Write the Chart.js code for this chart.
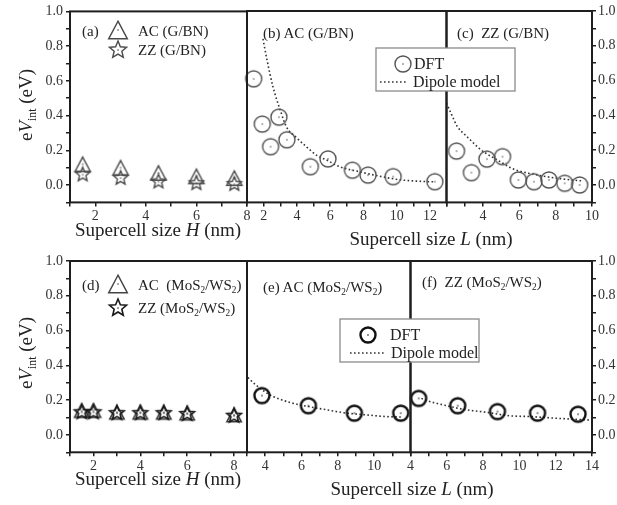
<!DOCTYPE html>
<html>
<head>
<meta charset="utf-8">
<title>eV_int versus supercell size</title>
<script src="https://cdn.jsdelivr.net/npm/chart.js@4.4.1/dist/chart.umd.min.js"></script>
<style>
  html, body { margin: 0; padding: 0; background: #fff; }
  #fig { position: relative; width: 617px; height: 505px; overflow: hidden; background: #fff; }
  #fig canvas { position: absolute; left: 0; top: 0; }
  .t { position: absolute; font-family: 'Liberation Serif', serif; color: #222; white-space: nowrap; line-height: 1; transform: translateY(-50%); }
  .t sub { font-size: 62%; vertical-align: -0.4em; line-height: 0; }
  .lab { font-size: 15px; }
  .leg { font-size: 16px; }
  .xt { font-size: 19px; transform: translate(-50%, -50%); }
  .yt { font-size: 19px; transform: translate(-50%, -50%) rotate(-90deg); }
</style>
</head>
<body>
<div id="fig">
  <canvas id="pa" width="617" height="505"></canvas>
  <canvas id="pb" width="617" height="505"></canvas>
  <canvas id="pc" width="617" height="505"></canvas>
  <canvas id="pd" width="617" height="505"></canvas>
  <canvas id="pe" width="617" height="505"></canvas>
  <canvas id="pf" width="617" height="505"></canvas>

  <div class="t lab" style="left:82px;top:31px">(a)</div>
  <div class="t lab" style="left:138px;top:31px">AC (G/BN)</div>
  <div class="t lab" style="left:138px;top:50px">ZZ (G/BN)</div>
  <div class="t lab" style="left:263px;top:33px">(b) AC (G/BN)</div>
  <div class="t lab" style="left:457px;top:33px">(c)&nbsp;&nbsp;ZZ (G/BN)</div>
  <div class="t leg" style="left:414px;top:64px">DFT</div>
  <div class="t leg" style="left:413px;top:82px">Dipole model</div>

  <div class="t lab" style="left:82px;top:285px">(d)</div>
  <div class="t lab" style="left:138px;top:285px">AC&nbsp;&nbsp;(MoS<sub>2</sub>/WS<sub>2</sub>)</div>
  <div class="t lab" style="left:138px;top:308px">ZZ (MoS<sub>2</sub>/WS<sub>2</sub>)</div>
  <div class="t lab" style="left:263px;top:287px">(e) AC (MoS<sub>2</sub>/WS<sub>2</sub>)</div>
  <div class="t lab" style="left:422px;top:282px">(f)&nbsp;&nbsp;ZZ (MoS<sub>2</sub>/WS<sub>2</sub>)</div>
  <div class="t leg" style="left:390px;top:335px">DFT</div>
  <div class="t leg" style="left:391px;top:353px">Dipole model</div>

  <div class="t xt" style="left:158px;top:229px">Supercell size <i>H</i> (nm)</div>
  <div class="t xt" style="left:431px;top:238px">Supercell size <i>L</i> (nm)</div>
  <div class="t xt" style="left:158px;top:478px">Supercell size <i>H</i> (nm)</div>
  <div class="t xt" style="left:412px;top:488px">Supercell size <i>L</i> (nm)</div>
  <div class="t yt" style="left:25px;top:105px">e<i>V</i><sub>int</sub> (eV)</div>
  <div class="t yt" style="left:25px;top:353px">e<i>V</i><sub>int</sub> (eV)</div>
</div>

<script>
// (a) G/BN, supercell size H
var gbnH = [1.5, 3, 4.5, 6, 7.5];
var gbnAC = [0.12, 0.10, 0.07, 0.05, 0.04];
var gbnZZ = [0.06, 0.04, 0.02, 0.01, 0.005];

// (b) AC G/BN, supercell size L
var gbnAcL = [1.4, 1.92, 2.42, 2.92, 3.4, 4.81, 5.87, 7.34, 8.28, 9.79, 12.3];
var gbnAcDft = [0.61, 0.35, 0.22, 0.39, 0.26, 0.105, 0.15, 0.085, 0.057, 0.048, 0.019];
var gbnAcFitL = [1.96, 2.2, 2.56, 3.0, 3.37, 4.0, 4.57, 5.2, 5.78, 6.58, 7.78, 8.99, 10.2, 11.7, 12.3];
var gbnAcFit = [0.84, 0.72, 0.565, 0.43, 0.335, 0.27, 0.22, 0.17, 0.144, 0.105, 0.076, 0.05, 0.03, 0.02, 0.018];

// (c) ZZ G/BN
var gbnZzL = [2.55, 3.37, 4.22, 5.08, 5.95, 6.81, 7.63, 8.5, 9.32];
var gbnZzDft = [0.195, 0.071, 0.149, 0.163, 0.029, 0.019, 0.029, 0.01, 0.0];
var gbnZzFitL = [2.0, 2.3, 2.6, 3.0, 3.3, 3.8, 4.2, 4.7, 5.1, 5.6, 6.0, 6.5, 7.0, 7.6, 8.2, 8.8, 9.4];
var gbnZzFit = [0.47, 0.40, 0.335, 0.29, 0.26, 0.21, 0.18, 0.15, 0.125, 0.095, 0.08, 0.068, 0.057, 0.046, 0.037, 0.03, 0.024];

// (d) MoS2/WS2, supercell size H
var mosH = [1.5, 2, 3, 4, 5, 6, 8];
var mosAC = [0.14, 0.14, 0.13, 0.13, 0.13, 0.125, 0.115];
var mosZZ = [0.13, 0.13, 0.125, 0.125, 0.125, 0.12, 0.11];

// (e) AC MoS2/WS2
var mosAcL = [3.82, 6.38, 8.91, 11.46];
var mosAcDft = [0.226, 0.168, 0.125, 0.125];
var mosAcFitL = [3.05, 3.4, 3.73, 4.1, 4.46, 5.38, 6.38, 7.4, 8.5, 9.6, 10.7, 11.6];
var mosAcFit = [0.33, 0.295, 0.268, 0.24, 0.22, 0.186, 0.163, 0.144, 0.125, 0.115, 0.105, 0.103];

// (f) ZZ MoS2/WS2
var mosZzL = [4.45, 6.6, 8.79, 11.0, 13.23];
var mosZzDft = [0.21, 0.168, 0.134, 0.125, 0.119];
var mosZzFitL = [4.6, 4.82, 5.82, 7.1, 8.19, 9.46, 10.7, 12.0, 13.84];
var mosZzFit = [0.21, 0.2, 0.172, 0.144, 0.13, 0.11, 0.105, 0.096, 0.086];

// axis ranges and tick labels left blank where panels meet
var yRange = [-0.1, 1.0];
var xRangeA = [1, 8], xRangeB = [1, 13], xRangeC = [2, 10];
var xRangeD = [1, 8.55], xRangeE = [3, 12], xRangeF = [4, 14];
var hiddenC = [2], hiddenE = [12];

Chart.defaults.font.family = "'Liberation Serif', serif";

var W = 617, H = 505, XH = 30, YWL = 30, YWR = 25;
var FRAME = '#1e1e1e';

function pts(xs, ys) {
    return xs.map(function (x, i) { return { x: x, y: ys[i] }; });
}

// hollow symbols with a small centre dot
function marker(shape, r, color, lw) {
    var s = Math.ceil(2 * r + 2 * lw + 4);
    if (s % 2) s++;
    var c = document.createElement('canvas');
    c.width = s; c.height = s;
    var g = c.getContext('2d');
    var m = s / 2;
    g.strokeStyle = color; g.fillStyle = color; g.lineWidth = lw; g.lineJoin = 'miter';
    g.beginPath();
    if (shape === 'ring') {
        g.arc(m, m, r, 0, Math.PI * 2);
    } else if (shape === 'tri') {
        // a little taller than equilateral, centred on its middle
        var hw = r * 0.85, hh = r * 0.8;
        g.moveTo(m, m - hh);
        g.lineTo(m + hw, m + hh);
        g.lineTo(m - hw, m + hh);
        g.closePath();
    } else {
        for (var j = 0; j < 10; j++) {
            var b = -Math.PI / 2 + j * Math.PI / 5;
            var rr = j % 2 ? r * 0.45 : r;
            g.lineTo(m + rr * Math.cos(b), m + rr * Math.sin(b));
        }
        g.closePath();
    }
    g.stroke();
    g.beginPath(); g.arc(m, m, 0.8, 0, Math.PI * 2); g.fill();
    return c;
}

var triTop = marker('tri', 9, '#4a4a4a', 1.4);
var triTopLeg = marker('tri', 11, '#4a4a4a', 1.4);
var starTop = marker('star', 7.5, '#4a4a4a', 1.4);
var starTopLeg = marker('star', 9, '#4a4a4a', 1.4);
var ringTop = marker('ring', 8, '#555', 1.4);
var triBot = marker('tri', 8.5, '#333', 1.5);
var triBotLeg = marker('tri', 11, '#444', 1.4);
var starBot = marker('star', 7.5, '#1a1a1a', 1.7);
var starBotLeg = marker('star', 9, '#1a1a1a', 1.6);
var ringBot = marker('ring', 7.5, '#111', 2.4);

function axisX(range, hidden) {
    return {
        type: 'linear', position: 'bottom', min: range[0], max: range[1],
        border: { display: false },
        grid: { drawOnChartArea: false, drawTicks: true, tickLength: 4, color: FRAME, lineWidth: 1.5 },
        ticks: {
            stepSize: 1, includeBounds: false, autoSkip: false, maxRotation: 0, padding: 2,
            color: '#333', font: { size: 14 },
            callback: function (v) {
                return (v % 2 === 0 && hidden.indexOf(v) < 0) ? String(v) : '';
            }
        },
        afterFit: function (s) { s.height = XH; }
    };
}

function axisY(pos) {
    var ax = {
        type: 'linear', position: pos || 'left', display: !!pos, min: yRange[0], max: yRange[1],
        border: { display: false },
        grid: { drawOnChartArea: false, drawTicks: true, tickLength: 4, color: FRAME, lineWidth: 1.5 },
        ticks: {
            stepSize: 0.1, autoSkip: false, padding: pos === 'right' ? 2 : 3,
            color: '#333', font: { size: 14 },
            callback: function (v) {
                var k = Math.round(v * 10);
                return (k % 2 === 0 && k >= 0) ? (k / 10).toFixed(1) : '';
            }
        }
    };
    if (pos) ax.afterFit = function (s) { s.width = pos === 'right' ? YWR : YWL; };
    return ax;
}

function dots(xs, ys, img) {
    return { data: pts(xs, ys), pointStyle: img, pointRadius: 8, showLine: false, clip: false };
}

function dipole(xs, ys) {
    return {
        data: pts(xs, ys), showLine: true, pointRadius: 0, fill: false,
        borderColor: '#333', borderWidth: 1.6, borderDash: [1.6, 2.4],
        cubicInterpolationMode: 'monotone'
    };
}

function putImg(ctx, img, x, y) {
    ctx.drawImage(img, x - img.width / 2, y - img.height / 2);
}

// legend box with the DFT ring and the dotted dipole sample
function legendBox(ctx, x, y, w, h, ring, ringPos, dash) {
    ctx.save();
    ctx.fillStyle = '#fff';
    ctx.fillRect(x, y, w, h);
    ctx.strokeStyle = '#8a8a8a'; ctx.lineWidth = 1.3;
    ctx.strokeRect(x, y, w, h);
    putImg(ctx, ring, ringPos[0], ringPos[1]);
    ctx.strokeStyle = '#333'; ctx.lineWidth = 1.6; ctx.setLineDash([1.6, 2.4]);
    ctx.beginPath(); ctx.moveTo(dash[0], dash[2]); ctx.lineTo(dash[1], dash[2]); ctx.stroke();
    ctx.restore();
}

function panel(id, box, range, hidden, yPos, datasets, decor) {
    var padL = box[0] - (yPos === 'left' ? YWL : 0);
    var padR = W - box[1] - (yPos === 'right' ? YWR : 0);
    return new Chart(document.getElementById(id), {
        type: 'scatter',
        data: { datasets: datasets },
        options: {
            responsive: false, animation: false, devicePixelRatio: 1, events: [],
            layout: { padding: { left: padL, right: padR, top: box[2], bottom: H - box[3] - XH } },
            plugins: { legend: { display: false }, tooltip: { enabled: false } },
            scales: { x: axisX(range, hidden), y: axisY(yPos) }
        },
        plugins: [{
            id: 'frame',
            afterDraw: function (chart) {
                var a = chart.chartArea, ctx = chart.ctx;
                ctx.save();
                ctx.strokeStyle = FRAME; ctx.lineWidth = 2;
                ctx.strokeRect(a.left, a.top, a.right - a.left, a.bottom - a.top);
                ctx.restore();
                if (decor) decor(ctx);
            }
        }]
    });
}

// top row: G/BN
panel('pa', [70, 247, 11, 202.4], xRangeA, [], 'left', [
    dots(gbnH, gbnAC, triTop),
    dots(gbnH, gbnZZ, starTop)
], function (ctx) {
    putImg(ctx, triTopLeg, 118, 30);
    putImg(ctx, starTopLeg, 118, 50);
});

panel('pb', [247, 446.5, 11, 202.4], xRangeB, [], null, [
    dots(gbnAcL, gbnAcDft, ringTop),
    dipole(gbnAcFitL, gbnAcFit)
]);

panel('pc', [446.5, 592, 11, 202.4], xRangeC, hiddenC, 'right', [
    dots(gbnZzL, gbnZzDft, ringTop),
    dipole(gbnZzFitL, gbnZzFit)
], function (ctx) {
    legendBox(ctx, 376, 48, 139, 43, ringTop, [403, 64], [380, 406, 82]);
});

// bottom row: MoS2/WS2
panel('pd', [70, 247, 261, 452.3], xRangeD, [], 'left', [
    dots(mosH, mosZZ, starBot),
    dots(mosH, mosAC, triBot)
], function (ctx) {
    putImg(ctx, triBotLeg, 118, 284);
    putImg(ctx, starBotLeg, 118, 308);
});

panel('pe', [247, 410.5, 261, 452.3], xRangeE, hiddenE, null, [
    dots(mosAcL, mosAcDft, ringBot),
    dipole(mosAcFitL, mosAcFit)
]);

panel('pf', [410.5, 592, 261, 452.3], xRangeF, [], 'right', [
    dots(mosZzL, mosZzDft, ringBot),
    dipole(mosZzFitL, mosZzFit)
], function (ctx) {
    legendBox(ctx, 340, 319, 139, 43, ringBot, [368, 335], [350, 385, 353]);
});
</script>
</body>
</html>
